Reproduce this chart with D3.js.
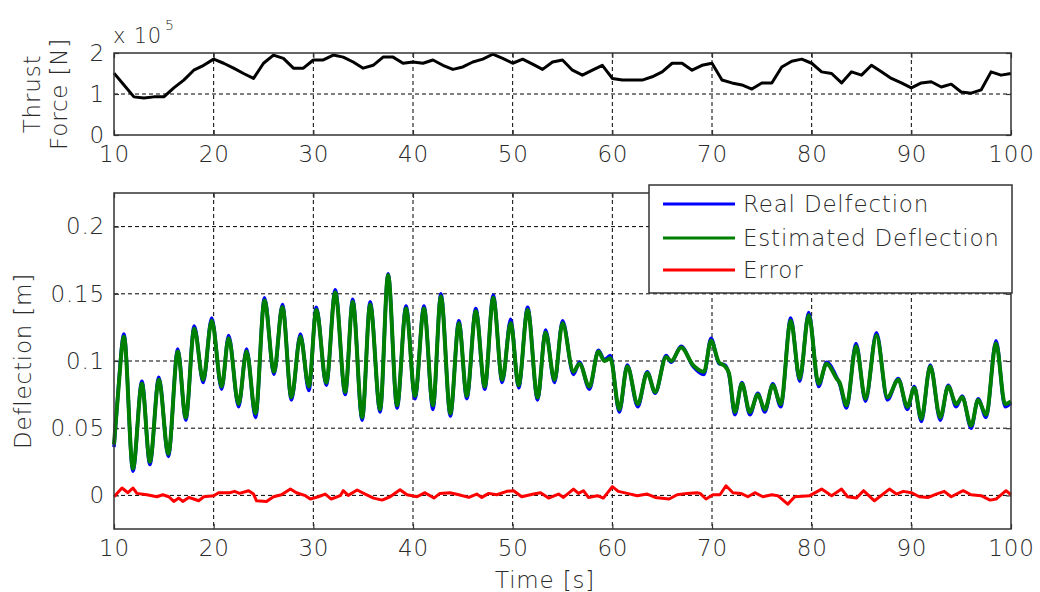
<!DOCTYPE html>
<html>
<head>
<meta charset="utf-8">
<script src="https://cdn.jsdelivr.net/npm/d3@7"></script>
<style>
  body { margin: 0; background: #fff; }
  text { font-family: "DejaVu Sans", sans-serif; font-weight: 200; fill: #2b2b2b; letter-spacing: 0.8px; }
</style>
</head>
<body>
<svg id="chart"></svg>
<script>
// Thrust force, 1e5 N, sampled every second
const thrustTime = d3.range(10, 101);
const thrustForce = [
  1.51, 1.22, 0.93, 0.90, 0.93, 0.93, 1.15, 1.34, 1.58, 1.70,
  1.85, 1.75, 1.63, 1.50, 1.38, 1.75, 1.95, 1.87, 1.63, 1.63,
  1.83, 1.83, 1.95, 1.90, 1.78, 1.63, 1.70, 1.90, 1.90, 1.75,
  1.78, 1.75, 1.83, 1.70, 1.60, 1.66, 1.78, 1.85, 1.97, 1.87,
  1.75, 1.85, 1.73, 1.60, 1.78, 1.83, 1.58, 1.46, 1.58, 1.70,
  1.38, 1.34, 1.34, 1.34, 1.42, 1.54, 1.75, 1.75, 1.58, 1.70,
  1.75, 1.34, 1.27, 1.22, 1.12, 1.27, 1.27, 1.66, 1.80, 1.85,
  1.75, 1.54, 1.50, 1.27, 1.54, 1.46, 1.70, 1.54, 1.38, 1.27,
  1.15, 1.27, 1.30, 1.17, 1.24, 1.05, 1.02, 1.10, 1.54, 1.46,
  1.50,
];

// Deflection, m (extrema)
const deflTime = [
  10.0, 10.4, 11.0, 11.9, 12.8, 13.6, 14.5, 15.45, 16.4, 17.2,
  18.05, 18.95, 19.8, 20.8, 21.5, 22.5, 23.3, 24.2, 25.1, 26.05,
  26.9, 27.8, 28.7, 29.55, 30.3, 31.3, 32.2, 33.2, 33.95, 34.9,
  35.7, 36.7, 37.5, 38.4, 39.3, 40.2, 41.1, 42.0, 42.8, 43.75,
  44.6, 45.4, 46.3, 47.2, 48.05, 48.95, 49.8, 50.6, 51.5, 52.5,
  53.3, 54.2, 55.0, 56.1, 56.7, 57.7, 58.6, 59.2, 59.8, 60.7,
  61.5, 62.55, 63.5, 64.3, 65.4, 65.9, 66.9, 68.1, 69.2, 69.9,
  70.7, 71.3, 71.7, 72.3, 73.0, 73.8, 74.6, 75.3, 76.1, 76.9,
  77.9, 78.8, 79.7, 80.7, 81.5, 82.5, 82.8, 83.5, 84.45, 85.4,
  86.5, 87.6, 88.7, 89.6, 90.3, 91.0, 91.9, 92.9, 93.7, 94.5,
  95.1, 96.0, 96.7, 97.5, 98.5, 99.4, 100.0,
];
const realDeflection = [
  0.036, 0.076, 0.120, 0.018, 0.085, 0.023, 0.088, 0.029, 0.109, 0.056,
  0.126, 0.084, 0.132, 0.079, 0.119, 0.066, 0.109, 0.058, 0.147, 0.090,
  0.142, 0.071, 0.120, 0.078, 0.140, 0.082, 0.153, 0.075, 0.146, 0.056,
  0.144, 0.062, 0.165, 0.065, 0.141, 0.072, 0.141, 0.064, 0.150, 0.059,
  0.130, 0.072, 0.139, 0.079, 0.149, 0.084, 0.131, 0.080, 0.140, 0.071,
  0.123, 0.084, 0.130, 0.090, 0.099, 0.079, 0.108, 0.101, 0.104, 0.062,
  0.097, 0.066, 0.092, 0.076, 0.104, 0.099, 0.111, 0.096, 0.090, 0.117,
  0.098, 0.097, 0.090, 0.060, 0.084, 0.060, 0.076, 0.062, 0.083, 0.066,
  0.132, 0.085, 0.136, 0.081, 0.099, 0.088, 0.083, 0.065, 0.113, 0.070,
  0.121, 0.071, 0.087, 0.064, 0.081, 0.055, 0.097, 0.056, 0.082, 0.066,
  0.074, 0.050, 0.072, 0.058, 0.115, 0.066, 0.069,
];
const estDeflection = [
  0.038, 0.075, 0.118, 0.020, 0.083, 0.025, 0.086, 0.031, 0.107, 0.058,
  0.124, 0.086, 0.130, 0.081, 0.117, 0.068, 0.107, 0.061, 0.145, 0.092,
  0.140, 0.073, 0.118, 0.081, 0.138, 0.084, 0.151, 0.077, 0.144, 0.058,
  0.142, 0.064, 0.164, 0.067, 0.139, 0.074, 0.139, 0.067, 0.148, 0.061,
  0.128, 0.074, 0.137, 0.081, 0.147, 0.086, 0.128, 0.082, 0.138, 0.073,
  0.121, 0.086, 0.128, 0.092, 0.098, 0.081, 0.107, 0.100, 0.102, 0.064,
  0.096, 0.068, 0.091, 0.077, 0.103, 0.100, 0.110, 0.097, 0.092, 0.115,
  0.099, 0.096, 0.091, 0.062, 0.083, 0.062, 0.075, 0.064, 0.082, 0.068,
  0.130, 0.087, 0.134, 0.083, 0.098, 0.087, 0.084, 0.067, 0.111, 0.072,
  0.119, 0.073, 0.086, 0.066, 0.080, 0.057, 0.096, 0.058, 0.081, 0.068,
  0.073, 0.052, 0.071, 0.060, 0.113, 0.068, 0.070,
];

// Estimation error, m
const errTime = [
  10.0, 10.8, 11.4, 11.9, 12.3, 13.3, 14.3, 14.9, 15.5, 16.0,
  16.5, 16.9, 17.5, 18.0, 18.5, 19.0, 20.0, 20.5, 21.6, 22.1,
  22.6, 23.5, 24.0, 24.3, 25.3, 26.0, 26.8, 27.7, 28.3, 29.2,
  29.7, 30.5, 31.2, 31.8, 32.7, 33.0, 33.5, 34.4, 35.2, 36.05,
  36.9, 37.7, 38.7, 39.4, 40.4, 41.2, 42.1, 42.7, 43.7, 44.6,
  45.6, 46.4, 46.9, 47.6, 48.4, 49.4, 50.1, 50.9, 52.1, 52.8,
  53.6, 54.6, 55.1, 56.1, 56.6, 57.1, 57.6, 58.5, 59.1, 60.0,
  60.6, 61.5, 62.5, 63.5, 64.3, 65.7, 66.5, 67.5, 68.5, 68.8,
  69.4, 70.1, 70.8, 71.4, 72.1, 72.9, 73.6, 74.3, 75.1, 76.0,
  76.6, 77.6, 78.3, 79.8, 81.0, 82.0, 83.0, 83.6, 84.5, 85.2,
  86.3, 87.8, 88.5, 89.2, 90.0, 90.8, 91.7, 92.5, 93.3, 94.0,
  95.2, 96.0, 97.0, 97.9, 98.5, 99.5, 100.0,
];
const errValue = [
  -0.001, 0.0055, 0.002, 0.0055, 0.0015, 0.0005, -0.001, 0.0005, -0.001, -0.0045,
  -0.002, -0.0045, -0.0015, -0.0027, -0.004, -0.001, -0.0002, 0.002, 0.002, 0.003,
  0.0015, 0.0035, 0.001, -0.004, -0.0045, -0.001, 0.0005, 0.0047, 0.002, -0.0002,
  -0.0027, -0.001, 0.001, -0.0027, -0.0002, 0.0035, 0.0, 0.004, 0.001, -0.002,
  -0.0035, -0.001, 0.0042, 0.0005, -0.001, 0.002, -0.002, 0.0015, 0.002, 0.0005,
  -0.0015, 0.001, -0.0015, 0.0015, 0.0005, 0.003, 0.0035, -0.001, 0.001, 0.002,
  -0.002, 0.001, -0.0015, 0.0047, 0.0015, 0.0035, -0.0015, -0.0002, -0.002, 0.0065,
  0.003, 0.0015, -0.0002, 0.001, -0.0015, -0.0027, 0.0005, 0.0015, 0.002, 0.0015,
  -0.0027, 0.0005, 0.0005, 0.0072, 0.002, 0.0015, -0.001, 0.002, -0.001, 0.0005,
  -0.0002, -0.0065, -0.001, -0.0002, 0.0047, -0.0002, 0.0047, -0.001, -0.002, 0.0035,
  -0.004, 0.0047, 0.001, 0.003, 0.002, -0.001, -0.0015, 0.001, 0.003, -0.001,
  0.0035, 0.0005, -0.0002, -0.0035, -0.0027, 0.0035, 0.0005,
];

const xTicks = [10, 20, 30, 40, 50, 60, 70, 80, 90, 100];
const thrustTicks = [0, 1, 2];
const deflTicks = [0, 0.05, 0.1, 0.15, 0.2];
const legendLabels = ["Real Delfection", "Estimated Deflection", "Error"];
const legendColors = ["#0000ff", "#008000", "#ff0000"];

const WIDTH = 1040;
const HEIGHT = 592;
const FONT = 23;

const svg = d3.select("#chart").attr("width", WIDTH).attr("height", HEIGHT);

// shared x range
const xLeft = 114;
const xRight = 1011;

function makePanel(top, bottom, yDomain, yTicks, xGridTicks, yGridTicks, yFormat) {
  const x = d3.scaleLinear().domain([10, 100]).range([xLeft, xRight]);
  const y = d3.scaleLinear().domain(yDomain).range([bottom, top]);
  const g = svg.append("g");

  // grid
  g.append("g")
    .selectAll("line.vgrid")
    .data(xGridTicks)
    .join("line")
    .attr("x1", (d) => x(d))
    .attr("x2", (d) => x(d))
    .attr("y1", top)
    .attr("y2", bottom)
    .attr("stroke", "#000")
    .attr("stroke-width", 1)
    .attr("stroke-dasharray", "4,3");
  g.append("g")
    .selectAll("line.hgrid")
    .data(yGridTicks)
    .join("line")
    .attr("x1", xLeft)
    .attr("x2", xRight)
    .attr("y1", (d) => y(d))
    .attr("y2", (d) => y(d))
    .attr("stroke", "#000")
    .attr("stroke-width", 1)
    .attr("stroke-dasharray", "4,3");

  // axes with inward ticks (MATLAB style)
  const styleAxis = (sel) => {
    sel.select(".domain").remove();
    sel.selectAll(".tick line").attr("stroke", "#333").attr("stroke-width", 1.2);
    sel.selectAll("text").style("font-size", FONT + "px").attr("fill", "#2b2b2b");
  };
  g.append("g")
    .attr("transform", `translate(0,${bottom})`)
    .call(d3.axisBottom(x).tickValues(xTicks).tickSize(-5).tickPadding(11).tickFormat(d3.format("d")))
    .call(styleAxis);
  g.append("g")
    .attr("transform", `translate(0,${top})`)
    .call(d3.axisTop(x).tickValues(xTicks).tickSize(-5).tickFormat(""))
    .call(styleAxis);
  g.append("g")
    .attr("transform", `translate(${xLeft},0)`)
    .call(d3.axisLeft(y).tickValues(yTicks).tickSize(-5).tickPadding(9).tickFormat(yFormat))
    .call(styleAxis);
  g.append("g")
    .attr("transform", `translate(${xRight},0)`)
    .call(d3.axisRight(y).tickValues(yTicks).tickSize(-5).tickFormat(""))
    .call(styleAxis);

  const plot = g.append("g");

  // frame on top
  g.append("rect")
    .attr("x", xLeft)
    .attr("y", top)
    .attr("width", xRight - xLeft)
    .attr("height", bottom - top)
    .attr("fill", "none")
    .attr("stroke", "#333")
    .attr("stroke-width", 1.5);

  return { x, y, g, plot };
}

// ---- Thrust panel ----
const thrust = makePanel(53, 135, [0, 2], thrustTicks, xTicks.slice(1, -1), [1], d3.format("d"));
const thrustLine = d3
  .line()
  .x((d, i) => thrust.x(thrustTime[i]))
  .y((d) => thrust.y(d));
thrust.plot
  .append("path")
  .attr("d", thrustLine(thrustForce))
  .attr("fill", "none")
  .attr("stroke", "#000")
  .attr("stroke-width", 3)
  .attr("stroke-linejoin", "round");

svg.append("text")
  .attr("x", 113)
  .attr("y", 43)
  .style("font-size", "21px")
  .text("x 10");
svg.append("text")
  .attr("x", 165)
  .attr("y", 30)
  .style("font-size", "14px")
  .text("5");

svg.append("text")
  .attr("transform", "translate(40,94) rotate(-90)")
  .attr("text-anchor", "middle")
  .style("font-size", FONT + "px")
  .text("Thrust");
svg.append("text")
  .attr("transform", "translate(67,94) rotate(-90)")
  .attr("text-anchor", "middle")
  .style("font-size", FONT + "px")
  .text("Force [N]");

// ---- Deflection panel ----
const defl = makePanel(193, 529, [-0.025, 0.225], deflTicks, xTicks.slice(1, -1), deflTicks, (d) => (d === 0 ? "0" : String(d)));

const deflLine = (values) =>
  d3
    .line()
    .curve(d3.curveMonotoneX)
    .x((d, i) => defl.x(deflTime[i]))
    .y((d) => defl.y(d))(values);

defl.plot
  .append("path")
  .attr("d", deflLine(realDeflection))
  .attr("fill", "none")
  .attr("stroke", legendColors[0])
  .attr("stroke-width", 3.5);
defl.plot
  .append("path")
  .attr("d", deflLine(estDeflection))
  .attr("fill", "none")
  .attr("stroke", legendColors[1])
  .attr("stroke-width", 4);

const errLine = d3
  .line()
  .x((d, i) => defl.x(errTime[i]))
  .y((d) => defl.y(d));
defl.plot
  .append("path")
  .attr("d", errLine(errValue))
  .attr("fill", "none")
  .attr("stroke", legendColors[2])
  .attr("stroke-width", 3)
  .attr("stroke-linejoin", "round");

svg.append("text")
  .attr("transform", "translate(31,361) rotate(-90)")
  .attr("text-anchor", "middle")
  .style("font-size", FONT + "px")
  .text("Deflection [m]");
svg.append("text")
  .attr("x", 545)
  .attr("y", 588)
  .attr("text-anchor", "middle")
  .style("font-size", FONT + "px")
  .text("Time [s]");

// ---- Legend ----
const legend = svg.append("g");
legend.append("rect")
  .attr("x", 649)
  .attr("y", 185)
  .attr("width", 363)
  .attr("height", 108)
  .attr("fill", "#fff")
  .attr("stroke", "#333")
  .attr("stroke-width", 1.5);
const rows = legend
  .selectAll("g.row")
  .data(legendLabels)
  .join("g")
  .attr("transform", (d, i) => `translate(0,${[204, 238, 270][i]})`);
rows.append("line")
  .attr("x1", 663)
  .attr("x2", 735)
  .attr("stroke", (d, i) => legendColors[i])
  .attr("stroke-width", 3);
rows.append("text")
  .attr("x", 743)
  .attr("dy", "0.36em")
  .style("font-size", FONT + "px")
  .text((d) => d);
</script>
</body>
</html>
